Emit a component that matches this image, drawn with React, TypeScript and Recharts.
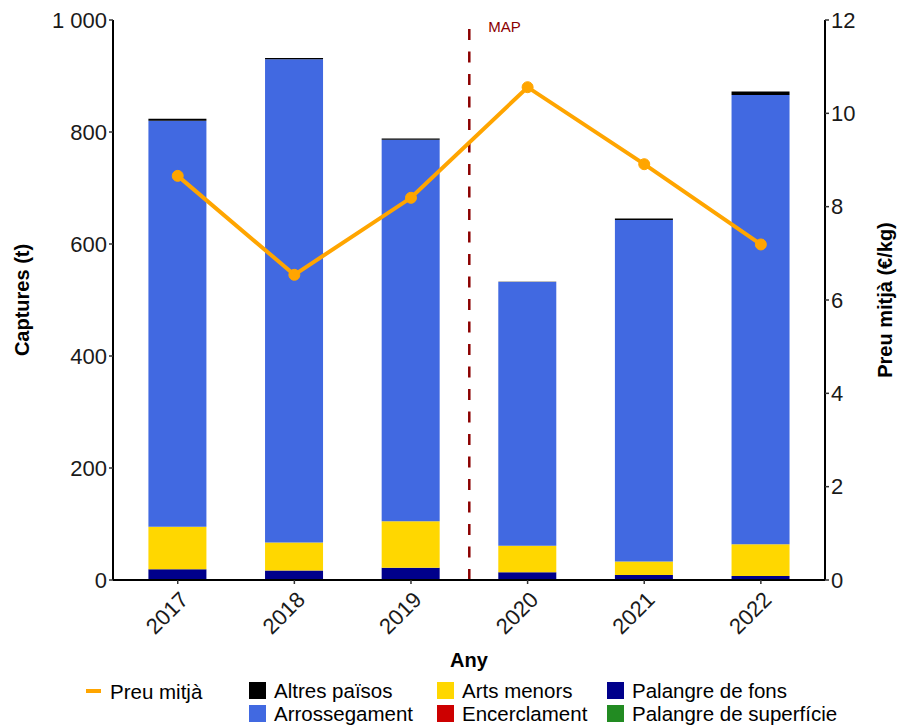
import React from 'react';
import { ComposedChart, Bar, Line, XAxis, YAxis, ReferenceLine } from 'recharts';

// ---- Data ----
const years = ['2017', '2018', '2019', '2020', '2021', '2022'];
const palangreSuperficie = [0, 0, 0, 0, 0, 0];
const palangreFons = [19, 17, 22, 14, 9, 7];
const encerclament = [0, 0, 0, 0, 0, 0];
const artsMenors = [76, 50, 83, 47, 24, 57];
const arrossegament = [725, 863, 681, 471, 610, 802];
const altresPaisos = [3.5, 2, 2.5, 0.5, 2.4, 6.5];
const preuMitja = [8.66, 6.54, 8.19, 10.56, 8.91, 7.19];

const leftTicks = [0, 200, 400, 600, 800, 1000];
const rightTicks = [0, 2, 4, 6, 8, 10, 12];
const mapPosition = 3.5; // between 2019 and 2020
const mapLabel = 'MAP';

const xTitle = 'Any';
const yLeftTitle = 'Captures (t)';
const yRightTitle = 'Preu mitjà (€/kg)';

const COLORS = {
  altres: '#000000',
  arrossegament: '#4169E1',
  arts: '#FFD700',
  encerclament: '#CD0000',
  fons: '#00008B',
  superficie: '#228B22',
  preu: '#FFA500',
  map: '#8B0000',
};

const data = years.map((y, i) => ({
  idx: i + 1,
  year: y,
  superficie: palangreSuperficie[i],
  fons: palangreFons[i],
  encerclament: encerclament[i],
  arts: artsMenors[i],
  arrossegament: arrossegament[i],
  altres: altresPaisos[i],
  preu: preuMitja[i],
}));

const FONT = '"Liberation Sans", Arial, Helvetica, sans-serif';
const TEXT = '#1a1a1a';

const fmtThousands = (v: number) => {
  if (v >= 1000) {
    const th = Math.floor(v / 1000);
    const rest = String(v % 1000).padStart(3, '0');
    return `${th} ${rest}`;
  }
  return String(v);
};

const XTick = (props: any) => {
  const { x, y, payload } = props;
  const label = years[Math.round(payload.value) - 1];
  const ax = x + 12;
  const ay = y + 15;
  return (
    <text
      x={ax}
      y={ay}
      transform={`rotate(-45 ${ax} ${ay})`}
      textAnchor="end"
      fontSize={22}
      fill={TEXT}
      fontFamily={FONT}
    >
      {label}
    </text>
  );
};

const MapLabel = (props: any) => {
  const vb = props.viewBox || {};
  return (
    <text x={vb.x + 19} y={vb.y + 12} fill={COLORS.map} fontSize={15} fontFamily={FONT}>
      {mapLabel}
    </text>
  );
};

const legendCol1 = [{ label: 'Preu mitjà', color: COLORS.preu }];
const legendRow1 = [
  { label: 'Altres països', color: COLORS.altres },
  { label: 'Arts menors', color: COLORS.arts },
  { label: 'Palangre de fons', color: COLORS.fons },
];
const legendRow2 = [
  { label: 'Arrossegament', color: COLORS.arrossegament },
  { label: 'Encerclament', color: COLORS.encerclament },
  { label: 'Palangre de superfície', color: COLORS.superficie },
];
const legendColX = [249, 437, 607];

export default function App() {
  return (
    <div style={{ position: 'absolute', left: 0, top: 0, width: 898, height: 727, background: '#fff' }}>
      <ComposedChart
        width={898}
        height={727}
        data={data}
        margin={{ top: 20, right: 23, left: 53, bottom: 77 }}
        barCategoryGap={0}
      >
        <XAxis
          dataKey="idx"
          type="number"
          domain={[0.445, 6.55]}
          ticks={[1, 2, 3, 4, 5, 6]}
          allowDataOverflow
          height={70}
          tick={<XTick />}
          tickSize={4}
          tickMargin={2}
          axisLine={{ stroke: '#000', strokeWidth: 2 }}
          tickLine={{ stroke: '#333', strokeWidth: 1.5 }}
        />
        <YAxis
          yAxisId="left"
          orientation="left"
          width={60}
          domain={[0, 1000]}
          ticks={leftTicks}
          allowDataOverflow
          tickFormatter={fmtThousands}
          tick={{ fill: TEXT, fontSize: 22, fontFamily: FONT }}
          tickSize={4}
          tickMargin={2}
          axisLine={{ stroke: '#000', strokeWidth: 2 }}
          tickLine={{ stroke: '#333', strokeWidth: 1.5 }}
        />
        <YAxis
          yAxisId="right"
          orientation="right"
          width={50}
          domain={[0, 12]}
          ticks={rightTicks}
          allowDataOverflow
          tick={{ fill: TEXT, fontSize: 22, fontFamily: FONT }}
          tickSize={4}
          tickMargin={2}
          axisLine={{ stroke: '#000', strokeWidth: 2 }}
          tickLine={{ stroke: '#333', strokeWidth: 1.5 }}
        />
        <Bar yAxisId="left" dataKey="superficie" stackId="a" fill={COLORS.superficie} barSize={58} isAnimationActive={false} />
        <Bar yAxisId="left" dataKey="fons" stackId="a" fill={COLORS.fons} barSize={58} isAnimationActive={false} />
        <Bar yAxisId="left" dataKey="encerclament" stackId="a" fill={COLORS.encerclament} barSize={58} isAnimationActive={false} />
        <Bar yAxisId="left" dataKey="arts" stackId="a" fill={COLORS.arts} barSize={58} isAnimationActive={false} />
        <Bar yAxisId="left" dataKey="arrossegament" stackId="a" fill={COLORS.arrossegament} barSize={58} isAnimationActive={false} />
        <Bar yAxisId="left" dataKey="altres" stackId="a" fill={COLORS.altres} barSize={58} isAnimationActive={false} />
        <ReferenceLine
          yAxisId="left"
          x={mapPosition}
          stroke={COLORS.map}
          strokeWidth={2.5}
          strokeDasharray="11 11.5"
          label={<MapLabel />}
        />
        <Line
          yAxisId="right"
          dataKey="preu"
          type="linear"
          stroke={COLORS.preu}
          strokeWidth={4}
          dot={{ r: 5.5, fill: COLORS.preu, stroke: COLORS.preu, strokeWidth: 1 }}
          activeDot={false}
          isAnimationActive={false}
        />
      </ComposedChart>
      <svg
        width={898}
        height={727}
        style={{ position: 'absolute', left: 0, top: 0, pointerEvents: 'none' }}
        fontFamily={FONT}
      >
        <text x={469} y={660} textAnchor="middle" dominantBaseline="central" fontSize={20} fontWeight="bold" fill="#000">
          {xTitle}
        </text>
        <text
          x={22}
          y={300}
          textAnchor="middle"
          dominantBaseline="central"
          fontSize={20}
          fontWeight="bold"
          fill="#000"
          transform="rotate(-90 22 300)"
        >
          {yLeftTitle}
        </text>
        <text
          x={885}
          y={300}
          textAnchor="middle"
          dominantBaseline="central"
          fontSize={20}
          fontWeight="bold"
          fill="#000"
          transform="rotate(-90 885 300)"
        >
          {yRightTitle}
        </text>
        {legendCol1.map((it) => (
          <g key={it.label}>
            <line x1={86} x2={101} y1={691} y2={691} stroke={it.color} strokeWidth={4} />
            <text x={110} y={691} dominantBaseline="central" fontSize={20.5} fill="#000">
              {it.label}
            </text>
          </g>
        ))}
        {legendRow1.map((it, i) => (
          <g key={it.label}>
            <rect x={legendColX[i]} y={682} width={17} height={17} fill={it.color} />
            <text x={legendColX[i] + 25} y={690.5} dominantBaseline="central" fontSize={20.5} fill="#000">
              {it.label}
            </text>
          </g>
        ))}
        {legendRow2.map((it, i) => (
          <g key={it.label}>
            <rect x={legendColX[i]} y={705} width={17} height={17} fill={it.color} />
            <text x={legendColX[i] + 25} y={713.5} dominantBaseline="central" fontSize={20.5} fill="#000">
              {it.label}
            </text>
          </g>
        ))}
      </svg>
    </div>
  );
}
